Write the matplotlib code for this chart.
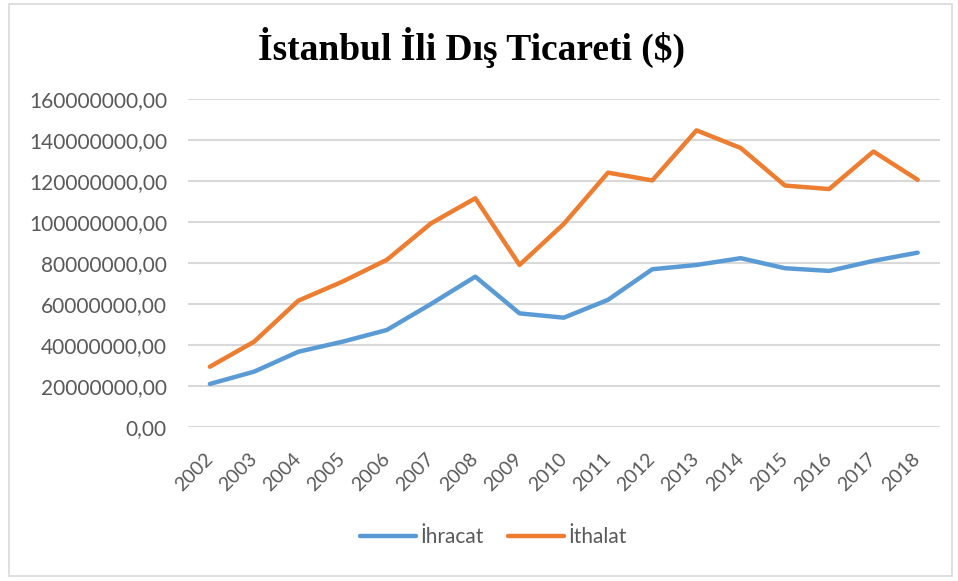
import matplotlib
matplotlib.use("Agg")
import matplotlib.pyplot as plt
from matplotlib.patches import Rectangle
from matplotlib.ticker import FuncFormatter, MultipleLocator

years = [str(y) for y in range(2002, 2019)]
ihracat = [21.0, 27.0, 36.7, 41.6, 47.3, 60.0, 73.3, 55.4, 53.3, 62.0, 76.9, 79.0, 82.3, 77.4, 76.1, 81.0, 85.0]
ithalat = [29.4, 41.6, 61.6, 70.9, 81.5, 99.3, 111.5, 79.0, 99.0, 124.0, 120.2, 144.6, 136.0, 117.7, 116.0, 134.3, 120.5]
ihracat = [v * 1e6 for v in ihracat]
ithalat = [v * 1e6 for v in ithalat]

title = "İstanbul İli Dış Ticareti ($)"
labels = ["İhracat", "İthalat"]
colors = ["#5B9BD5", "#ED7D31"]

fig = plt.figure(figsize=(9.58, 5.81), dpi=100)
ax = fig.add_axes([0.196, 0.265, 0.785, 0.565])

x = list(range(len(years)))
ax.plot(x, ihracat, color=colors[0], lw=3.2, label=labels[0], solid_capstyle="round", solid_joinstyle="round")
ax.plot(x, ithalat, color=colors[1], lw=3.2, label=labels[1], solid_capstyle="round", solid_joinstyle="round")

ax.set_xlim(-0.5, len(years) - 0.5)
ax.set_ylim(0, 160e6)
ax.yaxis.set_major_locator(MultipleLocator(20e6))
ax.yaxis.set_major_formatter(FuncFormatter(lambda v, p: f"{v:.2f}".replace(".", ",")))
ax.grid(axis="y", color="#D9D9D9", lw=1.5)
ax.set_axisbelow(True)
for s in ax.spines.values():
    s.set_visible(False)
ax.set_xticks(x)
ax.set_xticklabels(years, rotation=45, ha="right", va="center", rotation_mode="anchor")
ax.tick_params(axis="y", length=0, colors="#595959", labelsize=15, pad=15)
ax.tick_params(axis="x", length=0, colors="#595959", labelsize=14, pad=21)
for lab in ax.get_xticklabels() + ax.get_yticklabels():
    lab.set_fontfamily("Lato")

fig.text(0.492, 0.918, title, ha="center", va="center", fontsize=27,
         fontweight="bold", family="Liberation Serif")

leg = fig.legend(loc="center", bbox_to_anchor=(0.515, 0.075), ncol=2, frameon=False,
                 prop={"family": "Lato", "size": 15}, handlelength=2.7,
                 columnspacing=1.15, handletextpad=0.2)
for t in leg.get_texts():
    t.set_color("#595959")

fig.patches.append(Rectangle((0.009, 0.008), 0.985, 0.985, transform=fig.transFigure,
                             fill=False, edgecolor="#D9D9D9", lw=1.2))

fig.savefig("out.png", dpi=100)
